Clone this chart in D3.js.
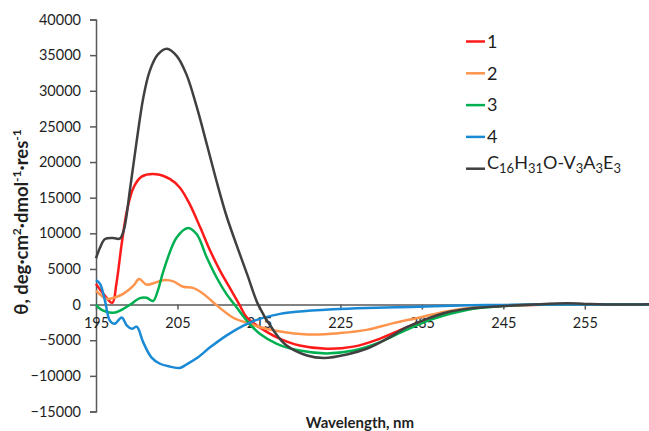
<!DOCTYPE html>
<html>
<head>
<meta charset="utf-8">
<script src="https://cdn.jsdelivr.net/npm/d3@7"></script>
<style>
	body { margin: 0; background: #fff; }
	text { font-family: Lato, "Open Sans", sans-serif; fill: #1f1f1f; }
</style>
</head>
<body>
<script>
var width = 649,
	height = 431;

// CD spectra: wavelength (nm) and ellipticity per series
var wl1 = [195, 195.9, 197.0, 197.5, 198.15, 198.8, 199.6, 200.6, 202.4, 204.1, 205.3, 206.5, 207.8, 209.0, 210.2, 211.4, 212.6, 213.5, 215.1, 217.2, 220.0, 223.3, 226.6, 229.8, 233.1, 236.4, 240.5, 245, 250, 263];
var theta1 = [2900, 1500, 250, 2900, 8500, 13200, 16400, 17950, 18300, 17600, 16400, 14100, 10800, 7600, 4800, 2400, 0, -1800, -3200, -4600, -5750, -6200, -5900, -4800, -3200, -1800, -600, -150, 0, 0];

var wl2 = [195, 196.3, 197.3, 198.35, 199.6, 200.3, 201.2, 202.45, 203.5, 204.5, 205.7, 206.9, 208.2, 209.4, 211.85, 213.9, 215.9, 218.4, 221.65, 224.9, 228.2, 231.5, 234.75, 238.0, 241.3, 245, 250, 263];
var theta2 = [1950, 800, 1000, 1500, 2650, 3600, 2800, 3150, 3450, 3250, 2500, 2350, 1500, 300, -1850, -2700, -3400, -3900, -4200, -4000, -3550, -2600, -1800, -950, -400, -100, 0, 0];

var wl3 = [195, 195.5, 197.1, 198.2, 199.2, 200.4, 201.2, 202.0, 202.6, 203.3, 204.9, 206.3, 207.35, 208.6, 209.8, 211.0, 212.0, 213.5, 215.1, 217.2, 220.0, 223.3, 226.6, 229.8, 233.1, 236.4, 240.5, 245, 250, 263];
var theta3 = [0, -600, -1150, -700, 0, 900, 950, 500, 2000, 4800, 9400, 10750, 9900, 6600, 3800, 1500, 0, -2250, -4100, -5500, -6450, -6850, -6450, -5300, -3550, -2000, -750, -200, 0, 0];

var wl4 = [195, 195.5, 196.1, 196.7, 197.3, 198.15, 198.8, 199.4, 200.0, 200.8, 201.8, 202.85, 204.1, 205.3, 206.1, 207.4, 209.0, 211.0, 213.1, 215.1, 217.6, 219.6, 224.1, 228.2, 232.3, 236.4, 241, 245, 250, 263];
var theta4 = [3450, 2900, 550, -2250, -2700, -1800, -2950, -3400, -3100, -5300, -7400, -8300, -8700, -8900, -8400, -7500, -6000, -4350, -2950, -2000, -1300, -1000, -650, -470, -370, -230, -100, -50, 0, 0];

var wl5 = [195, 195.5, 196.1, 197.1, 197.9, 198.4, 199.2, 200.0, 200.8, 201.6, 202.6, 203.7, 204.9, 206.1, 207.4, 208.6, 209.8, 211.0, 212.3, 213.6, 214.9, 216.8, 218.4, 220.9, 223.0, 225.8, 228.2, 230.7, 233.1, 235.6, 238.0, 240.5, 244.6, 248.6, 252.8, 255, 259, 263];
var theta5 = [6500, 8000, 9200, 9350, 9250, 10400, 16400, 23000, 29000, 32800, 35100, 35900, 34900, 32300, 27600, 22500, 17300, 12500, 8200, 4100, 0, -3650, -5750, -7150, -7500, -7000, -6200, -4800, -3200, -2000, -1100, -600, -230, 0, 180, 100, 0, 50];

var seriesNames = ["1", "2", "3", "4", "C16H31O-V3A3E3"];
var seriesColors = ["#ff1a1a", "#ff944d", "#00b050", "#1a8ad4", "#404040"];

var xTicks = [195, 205, 215, 225, 235, 245, 255];
var yTicks = d3.range(-15000, 40001, 5000);

var series = [
	{ name: seriesNames[0], color: seriesColors[0], x: wl1, y: theta1 },
	{ name: seriesNames[1], color: seriesColors[1], x: wl2, y: theta2 },
	{ name: seriesNames[2], color: seriesColors[2], x: wl3, y: theta3 },
	{ name: seriesNames[3], color: seriesColors[3], x: wl4, y: theta4 },
	{ name: seriesNames[4], color: seriesColors[4], x: wl5, y: theta5 }
];

var x = d3.scaleLinear()
	.domain([195, 263])
	.range([96, 650]);

var y = d3.scaleLinear()
	.domain([-15000, 40000])
	.range([411.5, 19.5]);

var svg = d3.select("body").append("svg")
	.attr("width", width)
	.attr("height", height);

// Left axis
var yAxis = svg.append("g")
	.attr("transform", "translate(" + x(195) + ",0)")
	.call(d3.axisLeft(y).tickValues(yTicks).tickSize(6).tickPadding(9).tickFormat(d3.format("d")));
yAxis.select(".domain").attr("stroke", "#595959").attr("stroke-width", 1.5);
yAxis.selectAll(".tick line").attr("stroke", "#595959").attr("stroke-width", 1.5);
yAxis.selectAll(".tick text")
	.style("font-family", "Lato, sans-serif")
	.style("font-size", "14.5px")
	.attr("fill", "#262626");

// Bottom axis sits on the zero line
var xAxis = svg.append("g")
	.attr("transform", "translate(0," + y(0) + ")")
	.call(d3.axisBottom(x).tickValues(xTicks).tickSize(5).tickPadding(8).tickSizeOuter(0));
xAxis.select(".domain").attr("stroke", "#595959").attr("stroke-width", 1.5);
xAxis.selectAll(".tick line").attr("stroke", "#595959").attr("stroke-width", 1.5);
xAxis.selectAll(".tick text")
	.style("font-family", "Lato, sans-serif")
	.style("font-size", "14.5px")
	.attr("fill", "#262626");

// Spectra
var line = d3.line()
	.x(function(d) { return x(d[0]); })
	.y(function(d) { return y(d[1]); })
	.curve(d3.curveCatmullRom.alpha(0.5));

svg.append("g").selectAll("path")
	.data(series)
	.enter().append("path")
	.attr("fill", "none")
	.attr("stroke", function(d) { return d.color; })
	.attr("stroke-width", 2.5)
	.attr("d", function(d) { return line(d3.zip(d.x, d.y)); });

// Axis titles
var yTitle = svg.append("text")
	.attr("transform", "translate(28,222) rotate(-90)")
	.attr("text-anchor", "middle")
	.style("font-size", "18.5px")
	.style("font-weight", "bold");
yTitle.append("tspan").text("θ, deg·cm");
yTitle.append("tspan").attr("dy", -7).style("font-size", "12px").text("2");
yTitle.append("tspan").attr("dy", 7).text("·dmol");
yTitle.append("tspan").attr("dy", -7).style("font-size", "12px").text("-1");
yTitle.append("tspan").attr("dy", 7).text("·res");
yTitle.append("tspan").attr("dy", -7).style("font-size", "12px").text("-1");

svg.append("text")
	.attr("x", 360)
	.attr("y", 428)
	.attr("text-anchor", "middle")
	.style("font-size", "15px")
	.style("font-weight", "bold")
	.text("Wavelength, nm");

// Legend
var legend = svg.append("g").selectAll("g")
	.data(series)
	.enter().append("g")
	.attr("transform", function(d, i) { return "translate(466," + (41.5 + i * 31.8) + ")"; });

legend.append("line")
	.attr("x1", 0).attr("x2", 19)
	.attr("stroke", function(d) { return d.color; })
	.attr("stroke-width", 2.5);

legend.each(function(d, i) {
	var t = d3.select(this).append("text")
		.attr("x", 21)
		.attr("dy", "0.35em")
		.style("font-size", "18px");
	if (i < 4) {
		t.text(d.name);
		return;
	}
	// chemical formula with subscripts
	var parts = [["C", 0], ["16", 1], ["H", 0], ["31", 1], ["O-V", 0], ["3", 1], ["A", 0], ["3", 1], ["E", 0], ["3", 1]];
	var prev = 0;
	parts.forEach(function(p) {
		var shift = p[1] ? 4 : 0;
		t.append("tspan")
			.attr("dy", shift - prev)
			.style("font-size", p[1] ? "13px" : "18px")
			.text(p[0]);
		prev = shift;
	});
});
</script>
</body>
</html>
